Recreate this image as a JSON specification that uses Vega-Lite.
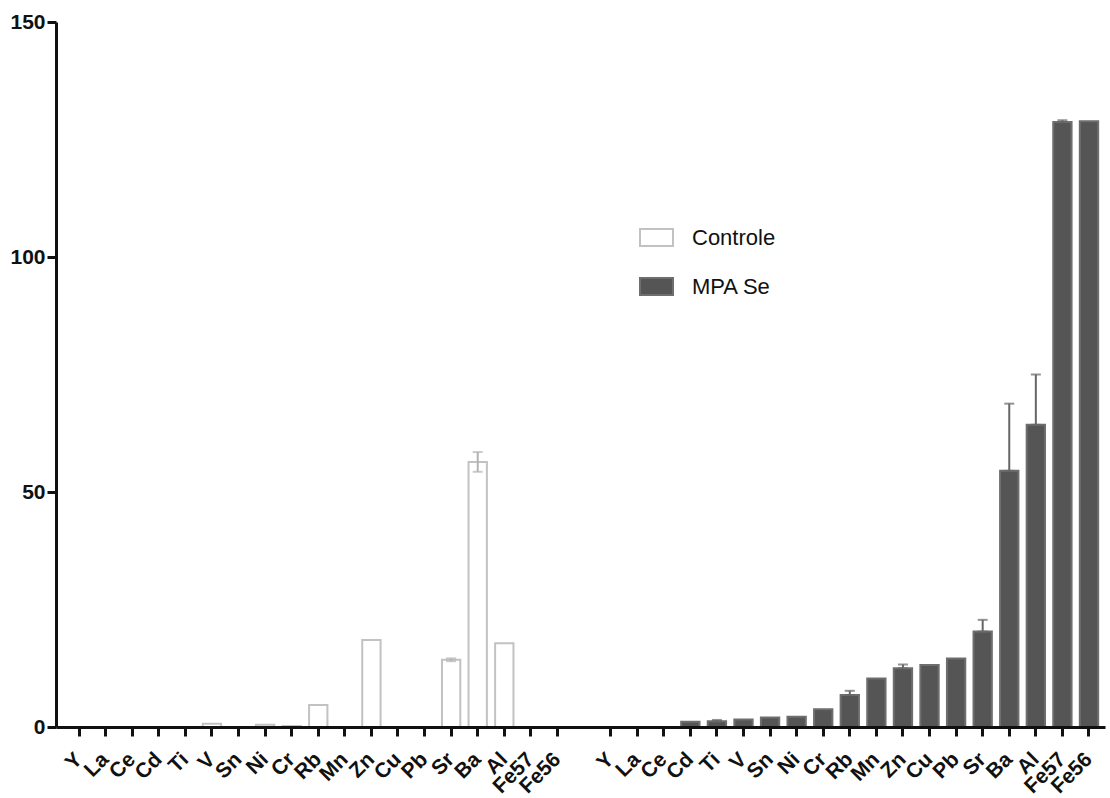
{
  "$schema": "https://vega.github.io/schema/vega-lite/v6.json",
  "autosize": "none",
  "width": 1049,
  "height": 705,
  "padding": {"left": 56, "top": 22, "right": 5, "bottom": 71},
  "background": "#ffffff",
  "config": {
    "view": {"stroke": null},
    "font": "Liberation Sans"
  },
  "data": {
    "values": [
      {"key": "C|Y", "group": "Controle", "value": 0},
      {"key": "C|La", "group": "Controle", "value": 0},
      {"key": "C|Ce", "group": "Controle", "value": 0},
      {"key": "C|Cd", "group": "Controle", "value": 0},
      {"key": "C|Ti", "group": "Controle", "value": 0},
      {"key": "C|V", "group": "Controle", "value": 0.7},
      {"key": "C|Sn", "group": "Controle", "value": 0},
      {"key": "C|Ni", "group": "Controle", "value": 0.5},
      {"key": "C|Cr", "group": "Controle", "value": 0.2},
      {"key": "C|Rb", "group": "Controle", "value": 4.7},
      {"key": "C|Mn", "group": "Controle", "value": 0},
      {"key": "C|Zn", "group": "Controle", "value": 18.5},
      {"key": "C|Cu", "group": "Controle", "value": 0},
      {"key": "C|Pb", "group": "Controle", "value": 0},
      {"key": "C|Sr", "group": "Controle", "value": 14.3, "lo": 14.0, "hi": 14.6},
      {"key": "C|Ba", "group": "Controle", "value": 56.4, "lo": 54.3, "hi": 58.5},
      {"key": "C|Al", "group": "Controle", "value": 17.8},
      {"key": "C|Fe57", "group": "Controle", "value": 0},
      {"key": "C|Fe56", "group": "Controle", "value": 0},
      {"key": "M|Y", "group": "MPA Se", "value": 0},
      {"key": "M|La", "group": "MPA Se", "value": 0},
      {"key": "M|Ce", "group": "MPA Se", "value": 0},
      {"key": "M|Cd", "group": "MPA Se", "value": 1.1},
      {"key": "M|Ti", "group": "MPA Se", "value": 1.2, "lo": 1.2, "hi": 1.5},
      {"key": "M|V", "group": "MPA Se", "value": 1.6},
      {"key": "M|Sn", "group": "MPA Se", "value": 2.0},
      {"key": "M|Ni", "group": "MPA Se", "value": 2.2},
      {"key": "M|Cr", "group": "MPA Se", "value": 3.8},
      {"key": "M|Rb", "group": "MPA Se", "value": 6.8, "lo": 6.8, "hi": 7.7},
      {"key": "M|Mn", "group": "MPA Se", "value": 10.3},
      {"key": "M|Zn", "group": "MPA Se", "value": 12.5, "lo": 12.5, "hi": 13.3},
      {"key": "M|Cu", "group": "MPA Se", "value": 13.2},
      {"key": "M|Pb", "group": "MPA Se", "value": 14.6},
      {"key": "M|Sr", "group": "MPA Se", "value": 20.3, "lo": 20.3, "hi": 22.8},
      {"key": "M|Ba", "group": "MPA Se", "value": 54.5, "lo": 54.5, "hi": 68.8},
      {"key": "M|Al", "group": "MPA Se", "value": 64.3, "lo": 64.3, "hi": 75.0},
      {"key": "M|Fe57", "group": "MPA Se", "value": 128.7, "lo": 128.7, "hi": 129.1},
      {"key": "M|Fe56", "group": "MPA Se", "value": 128.9}
    ]
  },
  "encoding": {
    "x": {
      "field": "key",
      "type": "nominal",
      "scale": {
        "domain": ["C|Y","C|La","C|Ce","C|Cd","C|Ti","C|V","C|Sn","C|Ni","C|Cr","C|Rb","C|Mn","C|Zn","C|Cu","C|Pb","C|Sr","C|Ba","C|Al","C|Fe57","C|Fe56","gap","M|Y","M|La","M|Ce","M|Cd","M|Ti","M|V","M|Sn","M|Ni","M|Cr","M|Rb","M|Mn","M|Zn","M|Cu","M|Pb","M|Sr","M|Ba","M|Al","M|Fe57","M|Fe56"],
        "paddingInner": 0.31,
        "paddingOuter": 0.39,
        "align": 0.67
      },
      "axis": {
        "title": null,
        "values": ["C|Y","C|La","C|Ce","C|Cd","C|Ti","C|V","C|Sn","C|Ni","C|Cr","C|Rb","C|Mn","C|Zn","C|Cu","C|Pb","C|Sr","C|Ba","C|Al","C|Fe57","C|Fe56","M|Y","M|La","M|Ce","M|Cd","M|Ti","M|V","M|Sn","M|Ni","M|Cr","M|Rb","M|Mn","M|Zn","M|Cu","M|Pb","M|Sr","M|Ba","M|Al","M|Fe57","M|Fe56"],
        "labelExpr": "slice(datum.label, 2)",
        "labelAngle": -45,
        "labelAlign": "right",
        "labelBaseline": "middle",
        "labelFontSize": 21,
        "labelFontWeight": "bold",
        "labelColor": "#111111",
        "labelPadding": 20,
        "labelOverlap": false,
        "labelBound": false,
        "domainColor": "#111111",
        "domainWidth": 3,
        "tickColor": "#111111",
        "tickWidth": 3,
        "tickSize": 9,
        "grid": false,
        "zindex": 1
      }
    }
  },
  "layer": [
    {
      "mark": {"type": "bar", "strokeWidth": 2},
      "encoding": {
        "y": {
          "field": "value",
          "type": "quantitative",
          "scale": {"domain": [0, 150], "nice": false},
          "axis": {
            "title": null,
            "values": [0, 50, 100, 150],
            "labelFontSize": 21,
            "labelFontWeight": "bold",
            "labelColor": "#111111",
            "labelPadding": 2,
            "domainColor": "#111111",
            "domainWidth": 3,
            "tickColor": "#111111",
            "tickWidth": 3,
            "tickSize": 9,
            "grid": false,
            "zindex": 1
          }
        },
        "fill": {
          "field": "group",
          "type": "nominal",
          "scale": {"domain": ["Controle", "MPA Se"], "range": ["#ffffff", "#555555"]},
          "legend": {
            "title": null,
            "orient": "none",
            "legendX": 583,
            "legendY": 198,
            "padding": 0,
            "symbolType": "M-1,-0.52H1V0.52H-1Z",
            "symbolSize": 1089,
            "symbolStrokeWidth": 2,
            "labelFontSize": 22,
            "labelFont": "Liberation Sans",
            "labelColor": "#111111",
            "labelOffset": 18,
            "rowPadding": 18
          }
        },
        "stroke": {
          "field": "group",
          "type": "nominal",
          "scale": {"domain": ["Controle", "MPA Se"], "range": ["#c2c2c2", "#6e6e6e"]},
          "legend": {
            "title": null,
            "orient": "none",
            "legendX": 583,
            "legendY": 198,
            "padding": 0,
            "symbolType": "M-1,-0.52H1V0.52H-1Z",
            "symbolSize": 1089,
            "symbolStrokeWidth": 2,
            "labelFontSize": 22,
            "labelFont": "Liberation Sans",
            "labelColor": "#111111",
            "labelOffset": 18,
            "rowPadding": 18
          }
        }
      }
    },
    {
      "transform": [{"filter": "isValid(datum.hi)"}],
      "mark": {"type": "rule", "strokeWidth": 2},
      "encoding": {
        "y": {"field": "lo", "type": "quantitative"},
        "y2": {"field": "hi"},
        "color": {
          "field": "group",
          "type": "nominal",
          "scale": {"domain": ["Controle", "MPA Se"], "range": ["#b3b3b3", "#666666"]},
          "legend": null
        }
      }
    },
    {
      "transform": [{"filter": "isValid(datum.hi)"}],
      "mark": {"type": "tick", "size": 10, "thickness": 2},
      "encoding": {
        "y": {"field": "hi", "type": "quantitative"},
        "color": {"field": "group", "type": "nominal", "legend": null}
      }
    },
    {
      "transform": [{"filter": "isValid(datum.lo)"}],
      "mark": {"type": "tick", "size": 10, "thickness": 2},
      "encoding": {
        "y": {"field": "lo", "type": "quantitative"},
        "color": {"field": "group", "type": "nominal", "legend": null}
      }
    }
  ]
}
